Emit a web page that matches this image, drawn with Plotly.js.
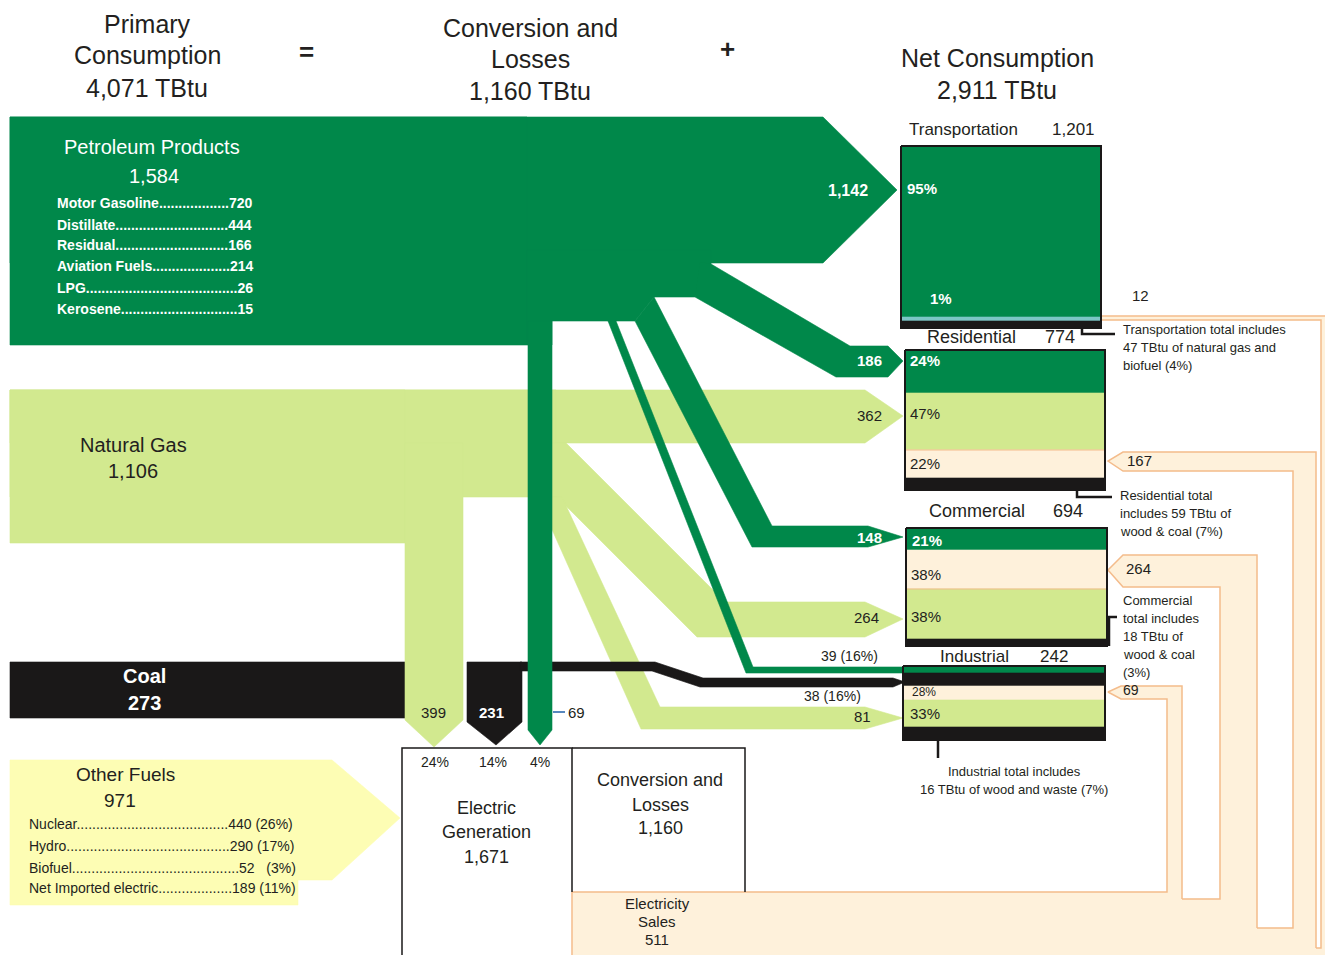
<!DOCTYPE html>
<html><head><meta charset="utf-8">
<script src="https://cdn.plot.ly/plotly-3.0.1.min.js"></script>
<style>html,body{margin:0;padding:0;background:#fff;overflow:hidden}#chart{width:1325px;height:955px}</style>
</head><body><div id="chart"></div>
<script>
// ---------------- DATA ----------------
const headerTitles = [['Primary', 'Consumption'], ['Conversion and', 'Losses'], ['Net Consumption']];
const headerTotals = [4071, 1160, 2911];
const sourceNames = ['Petroleum Products', 'Natural Gas', 'Coal', 'Other Fuels'];
const sourceTotals = [1584, 1106, 273, 971];
const petroleumProducts = ['Motor Gasoline', 'Distillate', 'Residual', 'Aviation Fuels', 'LPG', 'Kerosene'];
const petroleumValues = [720, 444, 166, 214, 26, 15];
const otherFuelNames = ['Nuclear', 'Hydro', 'Biofuel', 'Net Imported electric.'];
const otherFuelValues = [440, 290, 52, 189];
const otherFuelShares = [26, 17, 3, 11];
const sectorNames = ['Transportation', 'Residential', 'Commercial', 'Industrial'];
const sectorTotals = [1201, 774, 694, 242];
const petroleumToSector = [1142, 186, 148, 39];
const petroleumShareIndustrial = 16;
const gasToSector = [null, 362, 264, 81];
const coalToIndustrial = 38;
const coalShareIndustrial = 16;
const electricityToSector = [12, 167, 264, 69];
const toElectricNames = ['Natural Gas', 'Coal', 'Petroleum'];
const toElectricValues = [399, 231, 69];
const toElectricShares = [24, 14, 4];
const electricGeneration = 1671;
const conversionLosses = 1160;
const electricitySales = 511;
const transportShares = [95, 1];
const residentialShares = [24, 47, 22];
const commercialShares = [21, 38, 38];
const industrialShares = [28, 33];
const sectorNotes = [
  ['Transportation total includes', '47 TBtu of natural gas and', 'biofuel (4%)'],
  ['Residential total', 'includes 59 TBtu of', 'wood & coal (7%)'],
  ['Commercial', 'total includes', '18 TBtu of', 'wood & coal', '(3%)'],
  ['Industrial total includes', '16 TBtu of wood and waste (7%)']
];

// ---------------- STYLE ----------------
const FONT = 'Liberation Sans, Arial, Helvetica, sans-serif';
const DG = '#00884A', LG = '#D2E98F', BK = '#1A1818', CR = '#FEF1DB', OR = '#F4BC8C',
      YL = '#FDFDB4', TL = '#7CC6C6', TXT = '#231F20', BL = '#1F5FA8';
const fmt = v => v.toLocaleString('en-US');

const traces = [];
const annotations = [];
function poly(pts, fill, line, lw) {
  const xs = pts.map(p => p[0]), ys = pts.map(p => p[1]);
  xs.push(pts[0][0]); ys.push(pts[0][1]);
  traces.push({type: 'scatter', mode: 'lines', x: xs, y: ys,
    fill: fill ? 'toself' : 'none', fillcolor: fill || 'rgba(0,0,0,0)',
    line: {color: line || fill, width: lw === undefined ? 0.6 : lw}, hoverinfo: 'skip'});
}
function rect(x0, y0, x1, y1, fill, line, lw) { poly([[x0,y0],[x1,y0],[x1,y1],[x0,y1]], fill, line, lw); }
function path(pts, color, lw) {
  traces.push({type: 'scatter', mode: 'lines', x: pts.map(p => p[0]), y: pts.map(p => p[1]),
    line: {color: color, width: lw}, hoverinfo: 'skip'});
}
function T(text, x, y, size, color, anchor, bold) {
  annotations.push({text: bold ? '<b>' + text + '</b>' : text, x: x, y: y, xref: 'x', yref: 'y',
    showarrow: false, xanchor: anchor || 'center', yanchor: 'middle',
    font: {family: FONT, size: size, color: color}});
}
const cv = document.createElement('canvas').getContext('2d');
function tw(s, size, bold) { cv.font = (bold ? 'bold ' : '') + size + 'px "Liberation Sans"'; return cv.measureText(s).width; }
function dotted(label, value, width, size, bold) {
  const free = width - tw(label, size, bold) - tw(value, size, bold);
  const n = Math.max(2, Math.floor(free / tw('.', size, bold)));
  return label + '.'.repeat(n) + value;
}

// ---------------- ELECTRICITY RETURN LOOPS (cream) ----------------
poly([[1101,316],[1327,316],[1327,957],[572,957],[572,948],[1321,948],[1321,320],[1101,320]], CR, CR, 0.5);
poly([[1108,461],[1123,452],[1316,452],[1316,948],[572,948],[572,928],[1293,928],[1293,471],[1123,471]], CR, CR, 0.5);
poly([[1108,570],[1123,555],[1257,555],[1257,928],[572,928],[572,899],[1220,899],[1220,587],[1123,587]], CR, CR, 0.5);
poly([[1108,692],[1121,686],[1182,686],[1182,899],[572,899],[572,892],[1167,892],[1167,699],[1121,699]], CR, CR, 0.5);
path([[572,892],[1167,892],[1167,699],[1121,699],[1108,692],[1121,686],[1182,686],[1182,899]], OR, 1.5);
path([[1182,899],[1220,899],[1220,587],[1123,587],[1108,570],[1123,555],[1257,555],[1257,928]], OR, 1.5);
path([[1257,928],[1293,928],[1293,471],[1123,471],[1108,461],[1123,452],[1316,452],[1316,948]], OR, 1.5);
path([[1316,948],[1321,948],[1321,320],[1101,320]], OR, 1.5);
path([[1101,316],[1326,316]], OR, 1.5);
path([[572,892],[572,957]], OR, 1.5);

// ---------------- NATURAL GAS ----------------
poly([[10,390],[865,390],[903,416],[865,443],[10,443]], LG);
rect(10, 390, 556, 497, LG);
rect(10, 390, 405, 543, LG);
poly([[530,443],[566,443],[725,602],[865,602],[903,619],[865,637],[697,637],[557,497],[530,497]], LG);
poly([[540,497],[562,497],[660,707],[865,707],[903,718],[865,729],[641,729],[550,525],[540,525]], LG);

// ---------------- COAL ----------------
rect(10, 662, 405, 718, BK);
poly([[467,662],[522,662],[522,722],[496,745],[467,722]], BK);
poly([[520,662],[655,662],[703,678],[893,678],[905,682],[893,687],[700,687],[652,671],[520,671]], BK);

// gas to electric generation arrow (over coal)
poly([[405,443],[463,443],[463,720],[434,747],[405,720]], LG);

// ---------------- PETROLEUM ----------------
poly([[10,117],[823,117],[897,190],[823,263],[10,263]], DG);
rect(10, 117, 527, 345, DG);
poly([[527,250],[711,250],[711,264],[695,297],[654,297],[635,321],[552,321],[552,345],[527,345]], DG);
poly([[700,262],[711,264],[850,346],[888,346],[903,361],[888,377],[836,377],[695,297]], DG);
poly([[635,321],[654,297],[772,526],[868,526],[903,537],[868,547],[752,547]], DG);
poly([[608,321],[616,321],[753,667],[905,667],[905,673],[746,673]], DG);
poly([[528,321],[552,321],[552,730],[540,745],[528,730]], DG);
path([[553,712],[565,712]], BL, 1.5);

// ---------------- OTHER FUELS ----------------
poly([[10,760],[332,760],[400,818],[332,880],[298,880],[298,905],[10,905]], YL);

// ---------------- SECTOR BOXES ----------------
rect(901,146,1101,317, DG); rect(901,317,1101,321, TL); rect(901,321,1101,328, BK);
rect(901,146,1101,328, null, BK, 2);
rect(905,350,1105,393, DG); rect(905,393,1105,450, LG); rect(905,450,1105,478, CR); rect(905,478,1105,490, BK);
path([[905,450],[1105,450]], OR, 1);
rect(905,350,1105,490, null, BK, 2);
rect(906,528,1107,550, DG); rect(906,550,1107,589, CR); rect(906,589,1107,639, LG); rect(906,639,1107,646, BK);
path([[906,589],[1107,589]], OR, 1);
rect(906,528,1107,646, null, BK, 2);
rect(903,667,1105,673, DG); rect(903,673,1105,686, BK); rect(903,686,1105,700, CR); rect(903,700,1105,727, LG); rect(903,727,1105,740, BK);
rect(903,666,1105,740, null, BK, 2);

// electric generation and conversion boxes
path([[402,957],[402,748],[572,748],[572,892]], BK, 1.5);
path([[572,748],[745,748],[745,892]], BK, 1.5);

// note brackets
path([[1082,328],[1082,334],[1115,334]], BK, 2.5);
path([[1077,490],[1077,497],[1112,497]], BK, 2.5);
path([[1109,646],[1109,617],[1117,617]], BK, 2.5);
path([[938,740],[938,758]], BK, 2.5);

// ---------------- TEXT ----------------
const hx = [147, 530, 997];
T(headerTitles[0][0], hx[0], 24, 25, TXT); T(headerTitles[0][1], hx[0], 55, 25, TXT); T(fmt(headerTotals[0]) + ' TBtu', hx[0], 88, 25, TXT);
T(headerTitles[1][0], hx[1], 28, 25, TXT); T(headerTitles[1][1], hx[1], 59, 25, TXT); T(fmt(headerTotals[1]) + ' TBtu', hx[1], 91, 25, TXT);
T(headerTitles[2][0], hx[2], 58, 25, TXT); T(fmt(headerTotals[2]) + ' TBtu', hx[2], 90, 25, TXT);
T('=', 306, 52, 26, TXT, 'center', true);
T('+', 727, 49, 26, TXT, 'center', true);

// petroleum
T(sourceNames[0], 152, 147, 20, '#fff');
T(fmt(sourceTotals[0]), 154, 176, 20, '#fff');
const petY = [203, 225, 245, 266, 288, 309];
petroleumProducts.forEach((p, i) => T(dotted(p, String(petroleumValues[i]), 197, 14, true), 55, petY[i], 14, '#fff', 'left', true));
// natural gas
T(sourceNames[1], 133, 445, 20, TXT);
T(fmt(sourceTotals[1]), 133, 471, 20, TXT);
// coal
T(sourceNames[2], 144, 676, 20, '#fff', 'center', true);
T(fmt(sourceTotals[2]), 144, 703, 20, '#fff', 'center', true);
// other fuels
T(sourceNames[3], 125, 774, 19, TXT);
T(fmt(sourceTotals[3]), 120, 800, 19, TXT);
const ofY = [824, 846, 868, 888];
otherFuelNames.forEach((n, i) => {
  const val = otherFuelValues[i] + (otherFuelShares[i] < 10 ? '   (' : ' (') + otherFuelShares[i] + '%)';
  T(dotted(n, val, 268, 14, false), 27, ofY[i], 14, TXT, 'left');
});

// flows
T(fmt(petroleumToSector[0]), 848, 190, 16, '#fff', 'center', true);
T(fmt(petroleumToSector[1]), 869, 360, 15, '#fff', 'center', true);
T(fmt(gasToSector[1]), 869, 415, 15, TXT);
T(fmt(petroleumToSector[2]), 869, 537, 15, '#fff', 'center', true);
T(fmt(gasToSector[2]), 866, 617, 15, TXT);
T(petroleumToSector[3] + ' (' + petroleumShareIndustrial + '%)', 849, 656, 14, TXT);
T(coalToIndustrial + ' (' + coalShareIndustrial + '%)', 832, 696, 14, TXT);
T(fmt(gasToSector[3]), 862, 716, 15, TXT);
T(fmt(toElectricValues[0]), 433, 712, 15, TXT);
T(fmt(toElectricValues[1]), 491, 712, 15, '#fff', 'center', true);
T(fmt(toElectricValues[2]), 566, 712, 15, TXT, 'left');
T(toElectricShares[0] + '%', 435, 762, 14, TXT);
T(toElectricShares[1] + '%', 493, 762, 14, TXT);
T(toElectricShares[2] + '%', 540, 762, 14, TXT);
T('Electric', 486, 808, 18, TXT); T('Generation', 486, 832, 18, TXT); T(fmt(electricGeneration), 486, 857, 18, TXT);
T('Conversion and', 660, 780, 18, TXT); T('Losses', 660, 805, 18, TXT); T(fmt(conversionLosses), 660, 828, 18, TXT);
T('Electricity', 657, 903, 15, TXT); T('Sales', 657, 921, 15, TXT); T(fmt(electricitySales), 657, 939, 15, TXT);

// sectors
T(sectorNames[0], 907, 129, 17, TXT, 'left'); T(fmt(sectorTotals[0]), 1097, 129, 17, TXT, 'right');
T(sectorNames[1], 925, 337, 18, TXT, 'left'); T(fmt(sectorTotals[1]), 1077, 337, 18, TXT, 'right');
T(sectorNames[2], 927, 511, 18, TXT, 'left'); T(fmt(sectorTotals[2]), 1085, 511, 18, TXT, 'right');
T(sectorNames[3], 938, 656, 17, TXT, 'left'); T(fmt(sectorTotals[3]), 1070, 656, 17, TXT, 'right');
T(transportShares[0] + '%', 905, 188, 15, '#fff', 'left', true);
T(transportShares[1] + '%', 928, 298, 15, '#fff', 'left', true);
T(residentialShares[0] + '%', 908, 360, 15, '#fff', 'left', true);
T(residentialShares[1] + '%', 908, 413, 15, TXT, 'left');
T(residentialShares[2] + '%', 908, 463, 15, TXT, 'left');
T(commercialShares[0] + '%', 910, 540, 15, '#fff', 'left', true);
T(commercialShares[1] + '%', 909, 574, 15, TXT, 'left');
T(commercialShares[2] + '%', 909, 616, 15, TXT, 'left');
T(industrialShares[0] + '%', 910, 692, 12, TXT, 'left');
T(industrialShares[1] + '%', 908, 713, 15, TXT, 'left');
T(fmt(electricityToSector[0]), 1130, 295, 15, TXT, 'left');
T(fmt(electricityToSector[1]), 1125, 460, 15, TXT, 'left');
T(fmt(electricityToSector[2]), 1124, 568, 15, TXT, 'left');
T(fmt(electricityToSector[3]), 1121, 690, 14, TXT, 'left');

// notes
sectorNotes[0].forEach((s, i) => T(s, 1121, 329 + i * 18, 13, TXT, 'left'));
sectorNotes[1].forEach((s, i) => T(s, 1118, 495 + i * 18, 13, TXT, 'left'));
sectorNotes[2].forEach((s, i) => T(s, 1121, 600 + i * 18, 13, TXT, 'left'));
sectorNotes[3].forEach((s, i) => T(s, 1014, 771 + i * 18, 13, TXT, 'center'));

const layout = {
  width: 1325, height: 955, margin: {l: 0, r: 0, t: 0, b: 0},
  paper_bgcolor: '#fff', plot_bgcolor: '#fff', showlegend: false,
  xaxis: {range: [0, 1325], visible: false, fixedrange: true},
  yaxis: {range: [955, 0], visible: false, fixedrange: true},
  annotations: annotations
};
Plotly.newPlot('chart', traces, layout, {staticPlot: true, displayModeBar: false});
</script></body></html>
